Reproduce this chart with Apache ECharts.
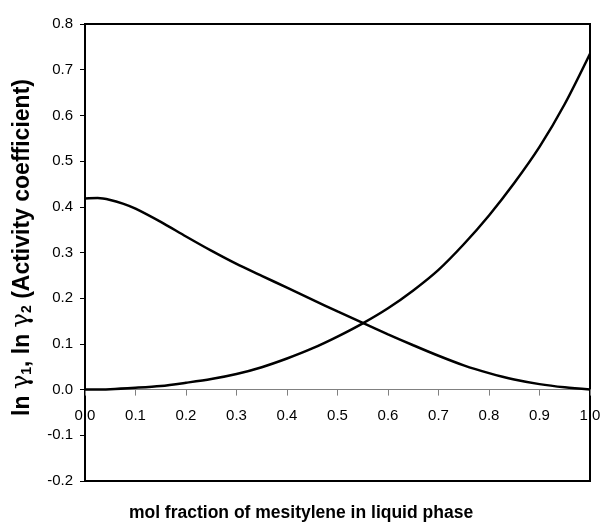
<!DOCTYPE html>
<html>
<head>
<meta charset="utf-8">
<script src="https://cdn.jsdelivr.net/npm/echarts@6/dist/echarts.min.js"></script>
<style>html,body{margin:0;padding:0;background:#fff;}#c{width:603px;height:525px;}</style>
</head>
<body>
<div id="c"></div>
<script>
var xTicks = [0.0, 0.1, 0.2, 0.3, 0.4, 0.5, 0.6, 0.7, 0.8, 0.9, 1.0];
var yTicks = [-0.2, -0.1, 0.0, 0.1, 0.2, 0.3, 0.4, 0.5, 0.6, 0.7, 0.8];
var xGamma1 = [0.00, 0.025, 0.05, 0.075, 0.10, 0.15, 0.20, 0.25, 0.30, 0.35, 0.40, 0.45, 0.50, 0.55, 0.60, 0.65, 0.70, 0.75, 0.80, 0.85, 0.90, 0.95, 1.00];
var lnGamma1 = [0.418, 0.419, 0.415, 0.407, 0.396, 0.367, 0.335, 0.304, 0.275, 0.249, 0.223, 0.197, 0.171, 0.146, 0.121, 0.097, 0.074, 0.053, 0.036, 0.022, 0.012, 0.005, 0.000];
var xGamma2 = [0.00, 0.05, 0.10, 0.15, 0.20, 0.25, 0.30, 0.35, 0.40, 0.45, 0.50, 0.55, 0.60, 0.65, 0.70, 0.75, 0.80, 0.85, 0.90, 0.95, 1.00];
var lnGamma2 = [0.000, 0.001, 0.004, 0.008, 0.015, 0.023, 0.034, 0.049, 0.068, 0.090, 0.116, 0.145, 0.178, 0.217, 0.262, 0.318, 0.381, 0.452, 0.531, 0.625, 0.735];

function pairs(xs, ys) { return xs.map(function (x, i) { return [x, ys[i]]; }); }

var chart = echarts.init(document.getElementById('c'), null, { renderer: 'canvas' });
var FONT = 'Liberation Sans, Arial, sans-serif';
var GRID_TOP = 24, GRID_BOTTOM = 44, H = 525;
var plotH = H - GRID_TOP - GRID_BOTTOM;
var yMin = yTicks[0], yMax = yTicks[yTicks.length - 1];
var zeroOffset = -plotH * (0 - yMin) / (yMax - yMin);

chart.setOption({
  animation: false,
  backgroundColor: '#ffffff',
  grid: { left: 85, right: 13, top: GRID_TOP, bottom: GRID_BOTTOM, containLabel: false, outerBoundsMode: 'none', show: true, borderColor: '#000', borderWidth: 2, backgroundColor: 'transparent' },
  xAxis: {
    type: 'value', position: 'bottom', offset: zeroOffset,
    min: xTicks[0], max: xTicks[xTicks.length - 1], interval: 0.1,
    axisLine: { show: true, onZero: false, lineStyle: { color: '#808080', width: 1 } },
    axisTick: { show: true, inside: false, length: 6, lineStyle: { color: '#808080' } },
    splitLine: { show: false },
    axisLabel: { color: '#000', fontFamily: FONT, fontSize: 15, margin: 19, formatter: function (v) { return v.toFixed(1); } },
    name: 'mol fraction of mesitylene in liquid phase',
    nameLocation: 'middle', nameGap: 115,
    nameTextStyle: { color: '#000', fontFamily: FONT, fontSize: 17.5, fontWeight: 'bold', padding: [0, 73, 0, 0] }
  },
  yAxis: {
    type: 'value',
    min: yMin, max: yMax, interval: 0.1,
    axisLine: { show: true, lineStyle: { color: '#000', width: 2 } },
    axisTick: { show: true, inside: false, length: 5, lineStyle: { color: '#000' } },
    splitLine: { show: false },
    axisLabel: { color: '#000', fontFamily: FONT, fontSize: 15, margin: 12, formatter: function (v) { return v.toFixed(1); } },
    name: '{b|ln }{g|γ}{s|1}{b|, ln }{g|γ}{s|2}{b| (Activity coefficient)}',
    nameLocation: 'middle', nameGap: 51, nameRotate: 90,
    nameTextStyle: {
      color: '#000', fontFamily: FONT, fontSize: 23, fontWeight: 'bold', padding: [0, 0, 0, 10],
      rich: {
        b: { fontFamily: FONT, fontSize: 23, fontWeight: 'bold', color: '#000', lineHeight: 25, verticalAlign: 'bottom' },
        g: { fontFamily: 'DejaVu Serif, serif', fontSize: 24, fontWeight: 'normal', color: '#000', lineHeight: 25, verticalAlign: 'bottom' },
        s: { fontFamily: FONT, fontSize: 14, fontWeight: 'bold', color: '#000', lineHeight: 14, verticalAlign: 'bottom', padding: [8, 0, 0, 0] }
      }
    }
  },
  series: [
    { type: 'line', name: 'ln γ1', data: pairs(xGamma1, lnGamma1), smooth: 0.3, showSymbol: false, lineStyle: { color: '#000', width: 2.5 }, z: 3 },
    { type: 'line', name: 'ln γ2', data: pairs(xGamma2, lnGamma2), smooth: 0.3, showSymbol: false, lineStyle: { color: '#000', width: 2.5 }, z: 3 }
  ]
});
</script>
</body>
</html>
